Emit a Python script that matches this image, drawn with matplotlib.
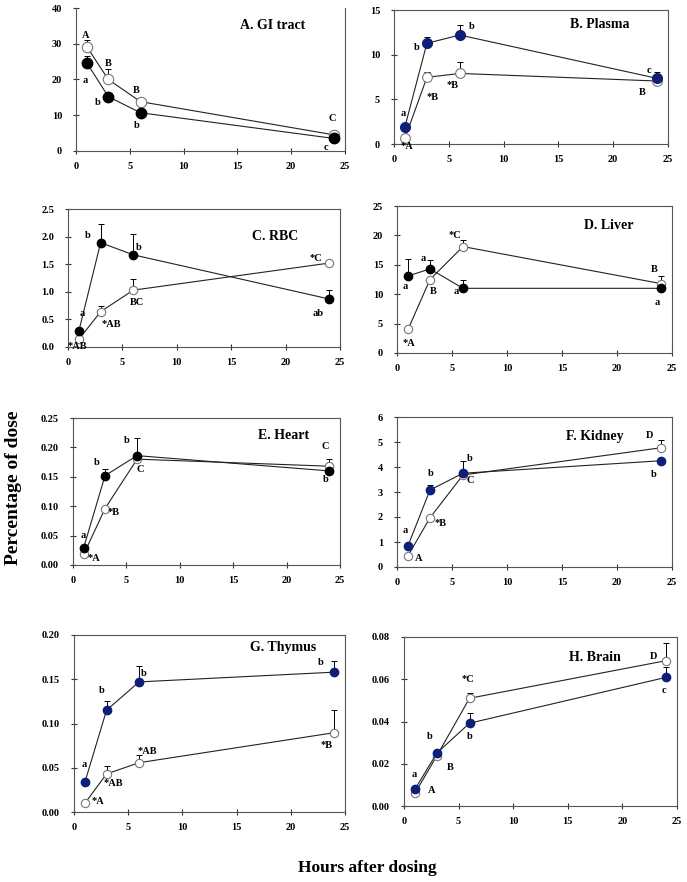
import matplotlib
matplotlib.use("Agg")
import matplotlib.pyplot as plt

plt.rcParams['font.family'] = ['Liberation Serif', 'DejaVu Serif']
plt.rcParams['font.weight'] = 'bold'

hours = [1, 3, 6, 24]

# ---- data (percentage of dose) ----
titles = ["A. GI tract", "B. Plasma", "C. RBC", "D. Liver",
          "E. Heart", "F. Kidney", "G. Thymus", "H. Brain"]

open_vals = [
    [29.2, 20.0, 13.8, 4.5],
    [0.64, 7.46, 7.9, 7.05],
    [0.14, 0.64, 1.03, 1.52],
    [4.0, 12.5, 18.1, 11.8],
    [0.018, 0.096, 0.180, 0.168],
    [0.45, 1.97, 3.68, 4.77],
    [0.0098, 0.043, 0.0557, 0.0896],
    [0.006, 0.0237, 0.051, 0.0688],
]
open_err = [
    [1.8, 2.8, 0.0, 0.0],
    [0.1, 0.65, 1.3, 0.2],
    [0.02, 0.11, 0.2, 0.06],
    [0.3, 0.5, 1.1, 1.3],
    [0.002, 0.004, 0.005, 0.012],
    [0.05, 0.05, 0.2, 0.33],
    [0.001, 0.009, 0.009, 0.026],
    [0.0005, 0.001, 0.0027, 0.0082],
]
filled_vals = [
    [24.7, 15.2, 10.7, 3.5],
    [1.94, 11.27, 12.2, 7.35],
    [0.29, 1.89, 1.67, 0.87],
    [13.1, 14.3, 11.0, 11.0],
    [0.0295, 0.152, 0.186, 0.160],
    [0.85, 3.08, 3.75, 4.25],
    [0.0335, 0.115, 0.147, 0.158],
    [0.0079, 0.025, 0.0392, 0.0609],
]
filled_err = [
    [1.9, 0.5, 0.0, 0.3],
    [0.2, 0.7, 1.1, 0.75],
    [0.03, 0.34, 0.37, 0.16],
    [2.9, 1.45, 1.4, 0.3],
    [0.003, 0.012, 0.030, 0.004],
    [0.05, 0.22, 0.5, 0.05],
    [0.002, 0.01, 0.018, 0.013],
    [0.0005, 0.001, 0.0047, 0.0051],
]
open_letters = [
    ["A", "B", "B", "C"],
    ["*A", "*B", "*B", "B"],
    ["*AB", "*AB", "BC", "*C"],
    ["*A", "B", "*C", "B"],
    ["*A", "*B", "C", "C"],
    ["A", "*B", "C", "D"],
    ["*A", "*AB", "*AB", "*B"],
    ["A", "B", "*C", "D"],
]
filled_letters = [
    ["a", "b", "b", "c"],
    ["a", "b", "b", "c"],
    ["a", "b", "b", "ab"],
    ["a", "a", "a", "a"],
    ["a", "b", "b", "b"],
    ["a", "b", "b", "b"],
    ["a", "b", "b", "b"],
    ["a", "b", "b", "c"],
]
yticks = [
    [0, 10, 20, 30, 40],
    [0, 5, 10, 15],
    [0.0, 0.5, 1.0, 1.5, 2.0, 2.5],
    [0, 5, 10, 15, 20, 25],
    [0.00, 0.05, 0.10, 0.15, 0.20, 0.25],
    [0, 1, 2, 3, 4, 5, 6],
    [0.00, 0.05, 0.10, 0.15, 0.20],
    [0.00, 0.02, 0.04, 0.06, 0.08],
]
yfmt = ["{:.0f}", "{:.0f}", "{:.1f}", "{:.0f}", "{:.2f}", "{:.0f}", "{:.2f}", "{:.2f}"]
xticks = [0, 5, 10, 15, 20, 25]

# ---- layout (pixels in a 687x882 canvas) ----
W, H = 687, 882
boxes = [  # left, right, top, bottom
    (76, 345, 8, 151),
    (394, 668, 10, 144),
    (68, 340, 209, 347),
    (397, 672, 206, 353),
    (73, 340, 418, 565),
    (397, 672, 417, 567),
    (74, 345, 635, 812),
    (404, 677, 637, 806),
]
title_pos = [(0.73, 0.88), (0.75, 0.89), (0.76, 0.80), (0.77, 0.87),
             (0.79, 0.88), (0.72, 0.87), (0.77, 0.93), (0.70, 0.88)]
navy = "#0f1f78"
filled_colors = ["black", navy, "black", "black", "black", navy, navy, navy]
msize_f = [7.5, 7, 6, 6, 6, 6, 6, 6]
msize_o = [7.5, 7, 6, 6, 6, 6, 6, 6]
open_off = [
    [(-1, 11), (0, 16), (-4, 11), (-2, 16)],
    [(2, -8), (6, -20), (-7, -12), (-15, -11)],
    [(-2, -7), (11, -13), (4, -12), (-13, 5)],
    [(1, -14), (3, -12), (-8, 11), (-7, 14)],
    [(10, -4), (9, -4), (3, -10), (-4, 20)],
    [(11, -3), (11, -6), (7, -5), (-11, 12)],
    [(13, 2), (7, -10), (8, 11), (-8, -13)],
    [(17, 3), (13, -12), (-2, 19), (-13, 4)],
]
filled_off = [
    [(-2, -18), (-11, -6), (-4, -13), (-8, -9)],
    [(-2, 13), (-10, -4), (12, 9), (-8, 8)],
    [(3, 17), (-13, 7), (5, 7), (-11, -15)],
    [(-3, -11), (-7, 10), (-7, -3), (-4, -14)],
    [(0, 12), (-8, 13), (-10, 15), (-4, -9)],
    [(-3, 15), (1, 17), (7, 15), (-7, -14)],
    [(-1, 18), (-5, 20), (5, 8), (-13, 10)],
    [(-1, 15), (-7, 17), (0, -13), (-2, -13)],
]

fig = plt.figure(figsize=(W / 100, H / 100), dpi=100)
fig.patch.set_facecolor("white")

for i in range(8):
    l, r, t, b = boxes[i]
    ax = fig.add_axes([l / W, 1 - b / H, (r - l) / W, (b - t) / H])
    ax.set_xlim(0, 25)
    ax.set_ylim(yticks[i][0], yticks[i][-1])
    ax.set_xticks(xticks)
    ax.set_yticks(yticks[i])
    ax.set_xticklabels([str(v) for v in xticks])
    ax.set_yticklabels([yfmt[i].format(v) for v in yticks[i]])
    ax.tick_params(direction="inout", length=4, width=0.8, labelsize=7.5,
                   colors="#333333", labelcolor="black")
    ax.tick_params(axis="x", pad=6)
    ax.tick_params(axis="y", pad=8)
    for lab in ax.get_xticklabels() + ax.get_yticklabels():
        lab.set_fontweight("bold")
    for s in ax.spines.values():
        s.set_color("#555555")
        s.set_linewidth(0.8)
    if i == 0:
        ax.spines["top"].set_visible(False)

    ov, oe = open_vals[i], open_err[i]
    fv, fe = filled_vals[i], filled_err[i]
    ax.errorbar(hours, ov, yerr=[[0] * 4, oe], fmt="none", ecolor="black",
                elinewidth=0.7, capsize=2.5, capthick=0.7, zorder=2)
    ax.errorbar(hours, fv, yerr=[[0] * 4, fe], fmt="none", ecolor="black",
                elinewidth=0.7, capsize=2.5, capthick=0.7, zorder=2)
    ax.plot(hours, ov, "-", color="#222222", lw=0.8, marker="o",
            markersize=msize_o[i], markerfacecolor="white",
            markeredgecolor="#777777", markeredgewidth=0.8, zorder=3,
            clip_on=False)
    ax.plot(hours, fv, "-", color="#222222", lw=0.8, marker="o",
            markersize=msize_f[i], markerfacecolor=filled_colors[i],
            markeredgecolor=filled_colors[i], zorder=4, clip_on=False)

    for j in range(4):
        ax.annotate(open_letters[i][j], (hours[j], ov[j]),
                    xytext=open_off[i][j], textcoords="offset pixels",
                    ha="center", va="center", fontsize=7.5, fontweight="bold",
                    zorder=5, annotation_clip=False)
        ax.annotate(filled_letters[i][j], (hours[j], fv[j]),
                    xytext=filled_off[i][j], textcoords="offset pixels",
                    ha="center", va="center", fontsize=7.5, fontweight="bold",
                    zorder=5, annotation_clip=False)

    ax.text(title_pos[i][0], title_pos[i][1], titles[i], transform=ax.transAxes,
            ha="center", va="center", fontsize=10, fontweight="bold")

fig.text(14 / W, 1 - 488 / H, "Percentage of dose", rotation=90,
         ha="center", va="center", fontsize=14, fontweight="bold")
fig.text(367 / W, 1 - 868 / H, "Hours after dosing",
         ha="center", va="center", fontsize=12.5, fontweight="bold")

fig.savefig("out.png", dpi=100, facecolor="white")
